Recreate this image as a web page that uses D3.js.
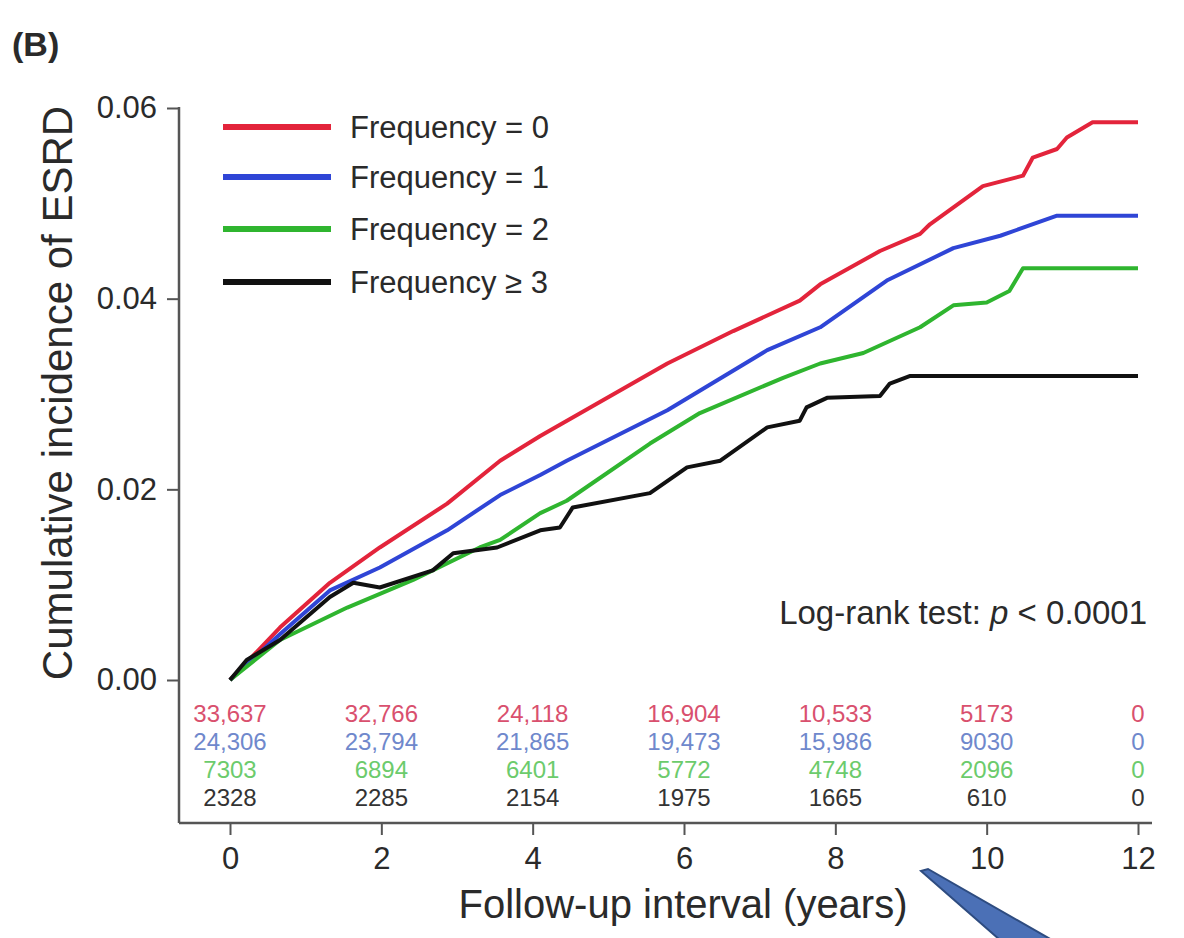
<!DOCTYPE html>
<meta charset="utf-8">
<div id="chart"></div>
<style>
body { margin: 0; background: #fff; font-family: 'Liberation Sans', Arial, sans-serif; }
</style>
<script src="https://d3js.org/d3.v7.min.js"></script>
<script>
// cumulative incidence curves
var t0 = [0, 0.66, 1.32, 1.98, 2.87, 3.57, 4.10, 4.32, 5.78, 6.65, 7.53, 7.8, 8.59, 9.12, 9.25, 9.95, 10.48, 10.61, 10.93, 11.06, 11.4, 12];
var v0 = [0, .0055, .0102, .0139, .0185, .0230, .0256, .0266, .0332, .0366, .0398, .0415, .0450, .0468, .0478, .0518, .0529, .0548, .0557, .0569, .0585, .0585];

var t1 = [0, 0.66, 1.32, 1.98, 2.87, 3.57, 4.10, 4.45, 5.78, 7.10, 7.8, 8.68, 9.56, 10.18, 10.93, 12];
var v1 = [0, .0048, .0094, .0118, .0157, .0194, .0215, .0230, .0283, .0346, .0370, .0419, .0453, .0466, .0487, .0487];

var t2 = [0, 0.66, 1.55, 2.42, 3.30, 3.57, 4.10, 4.45, 5.55, 6.21, 7.31, 7.8, 8.37, 9.12, 9.56, 10.0, 10.3, 10.48, 12];
var v2 = [0, .0042, .0076, .0105, .0139, .0147, .0175, .0188, .0248, .0280, .0317, .0332, .0343, .0370, .0393, .0396, .0408, .0432, .0432];

var t3 = [0, 0.22, 0.66, 1.32, 1.63, 1.98, 2.68, 2.95, 3.53, 4.10, 4.36, 4.53, 5.55, 6.04, 6.48, 7.10, 7.53, 7.62, 7.89, 8.59, 8.72, 8.99, 12];
var v3 = [0, .0021, .0042, .0087, .0102, .0097, .0115, .0133, .0139, .0157, .0160, .0181, .0196, .0223, .0230, .0265, .0272, .0286, .0296, .0298, .0311, .0319, .0319];

var groups = ['Frequency = 0', 'Frequency = 1', 'Frequency = 2', 'Frequency \u2265 3'];
var lineColors = ['#e3243b', '#2f45d6', '#2fb52f', '#111111'];
var tableColors = ['#d9506e', '#6f88cc', '#6ccb6c', '#333333'];

// number at risk
var riskTimes = [0, 2, 4, 6, 8, 10, 12];
var risk0 = ['33,637', '32,766', '24,118', '16,904', '10,533', '5173', '0'];
var risk1 = ['24,306', '23,794', '21,865', '19,473', '15,986', '9030', '0'];
var risk2 = ['7303', '6894', '6401', '5772', '4748', '2096', '0'];
var risk3 = ['2328', '2285', '2154', '1975', '1665', '610', '0'];

var xTicks = [0, 2, 4, 6, 8, 10, 12];
var yTicks = [0, 0.02, 0.04, 0.06];

var W = 1184, H = 938;
var svg = d3.select('#chart').append('svg').attr('width', W).attr('height', H);

var x = d3.scaleLinear().domain([0, 12]).range([230, 1138]);
var y = d3.scaleLinear().domain([0, 0.06]).range([680, 108]);

var axisColor = '#555';
var textColor = '#2a2a2a';
var axisBottomY = 823, axisLeftX = 179;

// panel letter
svg.append('text').attr('x', 12).attr('y', 56)
    .style('font-size', '34px').style('font-weight', 'bold').attr('fill', textColor).text('(B)');

// left axis
var yAxis = svg.append('g').attr('transform', 'translate(' + axisLeftX + ',0)')
    .call(d3.axisLeft(y).tickValues(yTicks).tickFormat(d3.format('.2f')).tickSize(12).tickSizeOuter(0));
yAxis.select('.domain').remove();
yAxis.selectAll('line').attr('stroke', axisColor).attr('stroke-width', 2);
yAxis.selectAll('text').style('font-size', '31px').style('font-family', "'Liberation Sans', Arial, sans-serif")
    .attr('fill', textColor).attr('x', -22);
svg.append('line').attr('x1', axisLeftX).attr('x2', axisLeftX)
    .attr('y1', y(0.06) - 1).attr('y2', axisBottomY)
    .attr('stroke', axisColor).attr('stroke-width', 2.5);

// bottom axis
var xAxis = svg.append('g').attr('transform', 'translate(0,' + axisBottomY + ')')
    .call(d3.axisBottom(x).tickValues(xTicks).tickSize(12).tickSizeOuter(0));
xAxis.select('.domain').remove();
xAxis.selectAll('line').attr('stroke', axisColor).attr('stroke-width', 2);
xAxis.selectAll('text').style('font-size', '31px').style('font-family', "'Liberation Sans', Arial, sans-serif")
    .attr('fill', textColor).attr('y', 24);
svg.append('line').attr('x1', axisLeftX).attr('x2', 1152)
    .attr('y1', axisBottomY).attr('y2', axisBottomY)
    .attr('stroke', axisColor).attr('stroke-width', 2.5);

// axis titles
svg.append('text').attr('transform', 'translate(72,393) rotate(-90)')
    .attr('text-anchor', 'middle').style('font-size', '42px').attr('fill', textColor)
    .text('Cumulative incidence of ESRD');
svg.append('text').attr('x', 683).attr('y', 918)
    .attr('text-anchor', 'middle').style('font-size', '40px').attr('fill', textColor)
    .text('Follow-up interval (years)');

// curves
var line = d3.line().x(function(d) { return x(d[0]); }).y(function(d) { return y(d[1]); });
var series = [[t0, v0], [t1, v1], [t2, v2], [t3, v3]].map(function(s) {
    return d3.zip(s[0], s[1]);
});
svg.selectAll('path.curve')
    .data(series)
    .enter()
    .append('path')
    .attr('class', 'curve')
    .attr('d', line)
    .attr('fill', 'none')
    .attr('stroke', function(d, i) { return lineColors[i]; })
    .attr('stroke-width', 4)
    .attr('stroke-linejoin', 'round');

// legend
var legend = svg.selectAll('.legend')
    .data(groups)
    .enter()
    .append('g')
    .attr('class', 'legend')
    .attr('transform', function(d, i) { return 'translate(223,' + [127, 177, 229, 282][i] + ')'; });
legend.append('line').attr('x1', 0).attr('x2', 108)
    .attr('stroke', function(d, i) { return lineColors[i]; })
    .attr('stroke-width', 6);
legend.append('text').attr('x', 127).attr('y', 11)
    .style('font-size', '31px').attr('fill', textColor)
    .text(function(d) { return d; });

// log-rank
var lr = svg.append('text').attr('x', 1147).attr('y', 624).attr('text-anchor', 'end')
    .style('font-size', '33px').attr('fill', textColor);
lr.append('tspan').text('Log-rank test: ');
lr.append('tspan').style('font-style', 'italic').text('p');
lr.append('tspan').text(' < 0.0001');

// number at risk table
var rows = [risk0, risk1, risk2, risk3];
var rowY = [722, 750, 778, 806];
rows.forEach(function(r, i) {
    svg.selectAll('.risk' + i)
        .data(r)
        .enter()
        .append('text')
        .attr('class', 'risk' + i)
        .attr('x', function(d, j) { return x(riskTimes[j]); })
        .attr('y', rowY[i])
        .attr('text-anchor', 'middle')
        .style('font-size', '24px')
        .attr('fill', tableColors[i])
        .text(function(d) { return d; });
});

// callout wedge at the bottom right
svg.append('path')
    .attr('d', 'M921,871 L928,869 L1052,940 L1000,940 Z')
    .attr('fill', '#4b70b6')
    .attr('stroke', '#2e4c80')
    .attr('stroke-width', 2);
</script>
